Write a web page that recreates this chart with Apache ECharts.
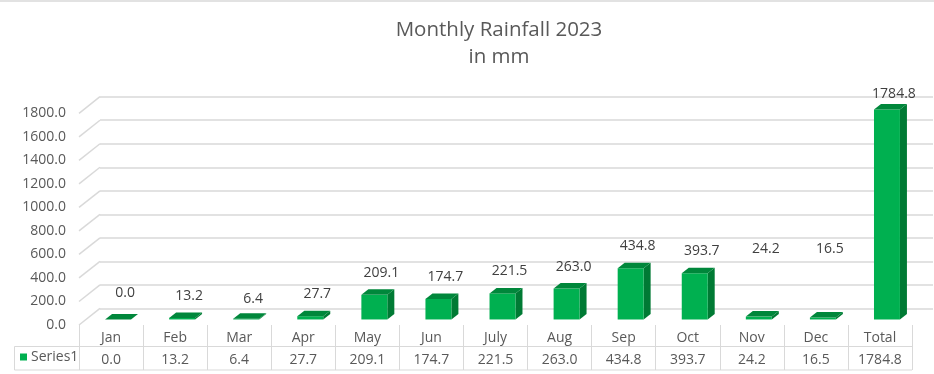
<!DOCTYPE html>
<html>
<head>
<meta charset="utf-8">
<script src="https://cdn.jsdelivr.net/npm/echarts@6/dist/echarts.min.js"></script>
<style>
  html, body { margin: 0; padding: 0; background: #ffffff; }
  #chart { width: 934px; height: 374px; }
</style>
</head>
<body>
<div id="chart"></div>
<script>
// ---- data ----
const categories = ['Jan', 'Feb', 'Mar', 'Apr', 'May', 'Jun', 'July', 'Aug', 'Sep', 'Oct', 'Nov', 'Dec', 'Total'];
const rainfall = [0.0, 13.2, 6.4, 27.7, 209.1, 174.7, 221.5, 263.0, 434.8, 393.7, 24.2, 16.5, 1784.8];
const yTicks = [0, 200, 400, 600, 800, 1000, 1200, 1400, 1600, 1800];
const seriesName = 'Series1';
const titleLines = ['Monthly Rainfall 2023', 'in mm'];

// ---- style ----
const FONT = '"Open Sans", "Noto Sans", sans-serif';
const TEXT = '#595959';
const GRID_COLOR = '#d9d9d9';
const DX = 21, DY = -16.6;            // depth of 3D wall
const FRONT = '#00b050', TOP = '#00873b', SIDE = '#007a34';
const LABEL_LIFT_DEFAULT = 22;
const labelLift = { Jan: 26, Mar: 20, Nov: 68, Dec: 69, Total: 16 };

const chart = echarts.init(document.getElementById('chart'));

function renderBar(params, api) {
  const i = api.value(0), v = api.value(1);
  const base = api.coord([i, 0]);
  const top = api.coord([i, v]);
  const colW = api.size([1, 0])[0];
  const w = colW * 0.405;
  const fx = DX / 3, fy = DY / 3;
  const cx = base[0] + fx;
  const xl = cx - w / 2, xr = cx + w / 2;
  const yb = base[1] + fy, yt = top[1] + fy;
  const lift = labelLift[categories[i]] != null ? labelLift[categories[i]] : LABEL_LIFT_DEFAULT;
  return {
    type: 'group',
    children: [
      { type: 'polygon', shape: { points: [[xr, yt], [xr + fx, yt + fy], [xr + fx, yb + fy], [xr, yb]] }, style: { fill: SIDE } },
      { type: 'rect', shape: { x: xl, y: yt, width: w, height: yb - yt }, style: { fill: FRONT } },
      { type: 'polygon', shape: { points: [[xl, yt], [xl + fx, yt + fy], [xr + fx, yt + fy], [xr, yt]] }, style: { fill: TOP } },
      { type: 'text', style: { text: v.toFixed(1), x: base[0] + 14, y: yt - lift, align: 'center', verticalAlign: 'middle', fill: '#404040', fontSize: 14, fontFamily: FONT } }
    ]
  };
}

function renderWall(params, api) {
  const v = api.value(1);
  const y = api.coord([0, v])[1];
  const x0 = params.coordSys.x;
  return { type: 'line', shape: { x1: x0, y1: y, x2: x0 + DX, y2: y + DY }, style: { stroke: GRID_COLOR, lineWidth: 1.5 } };
}

const frontTop = 113.3, frontBottom = 374 - 325;

const option = {
  backgroundColor: '#ffffff',
  animation: false,
  title: {
    text: titleLines.join('\n'),
    left: 494, top: 12, textAlign: 'center',
    textStyle: { fontFamily: FONT, fontSize: 20.5, fontWeight: 'normal', color: TEXT, lineHeight: 27 }
  },
  legend: {
    data: [seriesName], left: 20, top: 350, padding: 0, icon: 'rect', itemWidth: 7, itemHeight: 7, itemGap: 0,
    textStyle: { fontFamily: FONT, fontSize: 14, color: TEXT, padding: [0, 0, 0, -1] }
  },
  grid: [
    { left: 79, right: 22, top: frontTop, bottom: frontBottom },
    { left: 79 + DX, right: 22 - DX, top: frontTop + DY, bottom: frontBottom - DY }
  ],
  xAxis: [
    {
      gridIndex: 0, type: 'category', data: categories, position: 'bottom',
      axisLine: { show: false },
      axisTick: { show: true, interval: 0, length: 45, lineStyle: { color: GRID_COLOR } },
      axisLabel: { interval: 0, margin: 6, color: TEXT, fontSize: 14, fontFamily: FONT }
    },
    {
      gridIndex: 0, type: 'category', data: rainfall.map(v => v.toFixed(1)), position: 'bottom', offset: 22,
      axisLine: { show: false }, axisTick: { show: false },
      axisLabel: { interval: 0, margin: 6, color: TEXT, fontSize: 14, fontFamily: FONT }
    },
    { gridIndex: 1, type: 'category', data: categories, show: false }
  ],
  yAxis: [
    {
      gridIndex: 0, type: 'value', min: 0, max: 1800, interval: 200,
      axisLine: { show: false }, axisTick: { show: false }, splitLine: { show: false },
      axisLabel: { margin: 13, color: TEXT, fontSize: 14, fontFamily: FONT, formatter: v => v.toFixed(1) }
    },
    {
      gridIndex: 1, type: 'value', min: 0, max: 1800, interval: 200,
      axisLine: { show: false }, axisTick: { show: false }, axisLabel: { show: false },
      splitLine: { show: true, lineStyle: { color: GRID_COLOR, width: 1.5 } }
    }
  ],
  series: [
    {
      name: 'wall', type: 'custom', xAxisIndex: 0, yAxisIndex: 0, silent: true,
      renderItem: renderWall, data: yTicks.map(v => [0, v]), z: 1
    },
    {
      name: seriesName, type: 'custom', xAxisIndex: 0, yAxisIndex: 0, itemStyle: { color: FRONT },
      renderItem: renderBar, data: rainfall.map((v, i) => [i, v]), z: 5
    }
  ],
  graphic: [
    { type: 'line', shape: { x1: 0, y1: 1, x2: 934, y2: 1 }, style: { stroke: GRID_COLOR, lineWidth: 1.5 } },
    { type: 'line', shape: { x1: 14.5, y1: 346.5, x2: 912, y2: 346.5 }, style: { stroke: GRID_COLOR, lineWidth: 1 } },
    { type: 'line', shape: { x1: 14.5, y1: 370, x2: 912, y2: 370 }, style: { stroke: GRID_COLOR, lineWidth: 1 } },
    { type: 'line', shape: { x1: 14.5, y1: 346.5, x2: 14.5, y2: 370 }, style: { stroke: GRID_COLOR, lineWidth: 1 } }
  ]
};
chart.setOption(option);
</script>
</body>
</html>
